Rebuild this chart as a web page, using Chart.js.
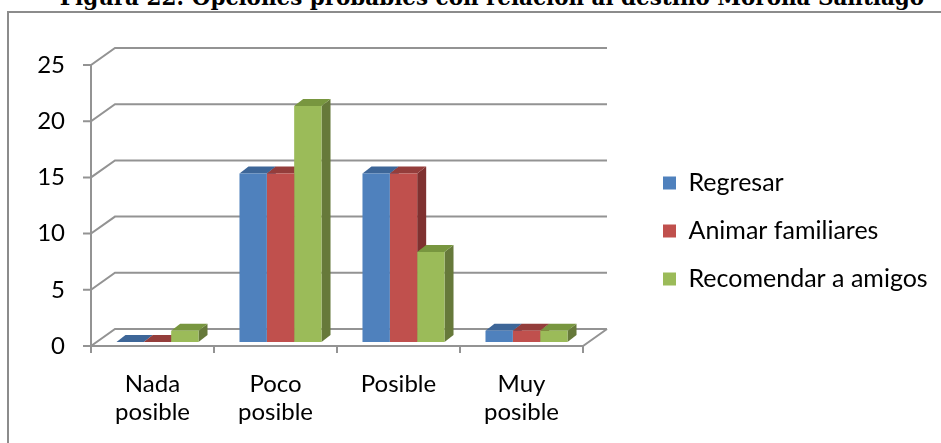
<!DOCTYPE html>
<html>
<head>
<meta charset="utf-8">
<script src="https://cdn.jsdelivr.net/npm/chart.js@4.4.0/dist/chart.umd.min.js"></script>
<style>
  html, body { margin: 0; padding: 0; background: #fff; overflow: hidden; width: 941px; height: 443px; }
  #frame { position: absolute; left: 7px; top: 11px; width: 1000px; height: 500px; border: 2px solid #8c8c8c; box-sizing: border-box; }
  #title { position: absolute; left: 0; width: 984px; text-align: center; white-space: nowrap;
           font-family: 'DejaVu Serif'; font-weight: bold; color: #000; line-height: 1; }
  #chart { position: absolute; left: 0; top: 0; }
</style>
</head>
<body>
<div id="frame"></div>
<div id="title">Figura 22: Opciones probables con relación al destino Morona Santiago</div>
<canvas id="chart" width="941" height="443"></canvas>
<script>
// datos
const categories = [['Nada', 'posible'], ['Poco', 'posible'], 'Posible', ['Muy', 'posible']];
const seriesNames = ['Regresar', 'Animar familiares', 'Recomendar a amigos'];
const regresar = [0, 15, 15, 1];
const animar = [0, 15, 15, 1];
const recomendar = [1, 21, 8, 1];
const yTicks = [0, 5, 10, 15, 20, 25];

const frontColors = ['#4f81bd', '#c0504d', '#9bbb59'];
const topColors = ['#3d6698', '#943d3b', '#78963f'];
const sideColors = ['#355a88', '#7f3130', '#66793a'];
const gridColor = '#939393';

// desplazamientos del efecto 3D
const FRONT = { dx: -5, dy: 4 };
const BACK = { dx: 19, dy: -13 };
const DEPTH = { dx: 9, dy: -7 };

const FONT_SIZE = 24;
const LEGEND_FONT = 25;
const LEGEND_W = 301;
Chart.defaults.font.family = 'Lato';
Chart.defaults.color = '#000';

// titulo: ajustar el ancho al original
const title = document.getElementById('title');
const mctx = document.createElement('canvas').getContext('2d');
mctx.font = 'bold 20px "DejaVu Serif"';
const titleSize = 20 * 865 / mctx.measureText(title.textContent).width;
title.style.fontSize = titleSize + 'px';
title.style.top = (5 - 0.846 * titleSize) + 'px';

// la leyenda: ancho fijo y centrada sobre el eje y las etiquetas
const legendBox = {
    id: 'legendBox',
    beforeInit(chart) {
        const fit = chart.legend.fit;
        chart.legend.fit = function () {
            fit.call(this);
            this.width = LEGEND_W;
        };
    },
    afterLayout(chart) {
        const lg = chart.legend, a = chart.chartArea;
        lg.top = a.top;
        lg.bottom = a.bottom + 59;
        lg.height = lg.bottom - lg.top;
    }
};

const box3d = {
    id: 'box3d',
    beforeDatasetsDraw(chart) {
        const { ctx, chartArea: a, scales: { x, y } } = chart;
        ctx.save();
        ctx.strokeStyle = gridColor;
        ctx.lineWidth = 2;
        const fx = a.left + FRONT.dx;
        yTicks.forEach(v => {
            const py = y.getPixelForValue(v);
            ctx.beginPath();
            ctx.moveTo(fx - 8, py + FRONT.dy);
            ctx.lineTo(fx, py + FRONT.dy);
            ctx.lineTo(a.left + BACK.dx, py + BACK.dy);
            ctx.lineTo(a.right + BACK.dx, py + BACK.dy);
            ctx.stroke();
        });
        const y0 = y.getPixelForValue(0);
        const yTop = y.getPixelForValue(yTicks[yTicks.length - 1]);
        ctx.beginPath();
        ctx.moveTo(fx, yTop + FRONT.dy);
        ctx.lineTo(fx, y0 + FRONT.dy);
        ctx.lineTo(a.right + FRONT.dx, y0 + FRONT.dy);
        ctx.lineTo(a.right + BACK.dx, y0 + BACK.dy);
        ctx.stroke();
        const w = (a.right - a.left) / categories.length;
        for (let i = 0; i <= categories.length; i++) {
            ctx.beginPath();
            ctx.moveTo(fx + i * w, y0 + FRONT.dy);
            ctx.lineTo(fx + i * w, y0 + FRONT.dy + 7);
            ctx.stroke();
        }
        // caras laterales y superiores de las barras
        chart.data.datasets.forEach((ds, di) => {
            chart.getDatasetMeta(di).data.forEach(bar => {
                const l = bar.x - bar.width / 2, r = bar.x + bar.width / 2;
                const t = bar.y, b = bar.base;
                ctx.fillStyle = sideColors[di];
                ctx.beginPath();
                ctx.moveTo(r, t);
                ctx.lineTo(r + DEPTH.dx, t + DEPTH.dy);
                ctx.lineTo(r + DEPTH.dx, b + DEPTH.dy);
                ctx.lineTo(r, b);
                ctx.closePath();
                ctx.fill();
                ctx.fillStyle = topColors[di];
                ctx.beginPath();
                ctx.moveTo(l, t);
                ctx.lineTo(r, t);
                ctx.lineTo(r + DEPTH.dx, t + DEPTH.dy);
                ctx.lineTo(l + DEPTH.dx, t + DEPTH.dy);
                ctx.closePath();
                ctx.fill();
            });
        });
        ctx.restore();
    }
};

const chart = new Chart(document.getElementById('chart').getContext('2d'), {
    type: 'bar',
    data: {
        labels: categories,
        datasets: [regresar, animar, recomendar].map((d, i) => ({
            label: seriesNames[i],
            data: d,
            backgroundColor: frontColors[i],
            borderWidth: 0,
            categoryPercentage: 0.667,
            barPercentage: 1.0
        }))
    },
    options: {
        responsive: false,
        animation: false,
        events: [],
        layout: { padding: { top: 61, bottom: 0, left: 0, right: 0 } },
        plugins: {
            legend: {
                position: 'right',
                align: 'center',
                fullSize: false,
                labels: {
                    boxWidth: 13,
                    boxHeight: 13,
                    padding: 23,
                    font: { size: LEGEND_FONT }
                }
            },
            tooltip: { enabled: false }
        },
        scales: {
            x: {
                grid: { display: false, drawTicks: false },
                border: { display: false },
                ticks: { padding: 28, labelOffset: FRONT.dx, maxRotation: 0, autoSkip: false,
                         font: { size: FONT_SIZE, lineHeight: '28.5px' } },
                afterFit: s => { s.height = 101; }
            },
            y: {
                min: 0,
                max: 25,
                grid: { display: false, drawTicks: false },
                border: { display: false },
                ticks: { stepSize: 5, padding: 31, labelOffset: FRONT.dy, font: { size: FONT_SIZE } },
                afterFit: s => { s.width = 96; }
            },
            yRight: {
                position: 'right',
                grid: { display: false, drawTicks: false },
                border: { display: false },
                ticks: { display: false },
                afterFit: s => { s.width = 52; }
            }
        }
    },
    plugins: [legendBox, box3d]
});
</script>
</body>
</html>
